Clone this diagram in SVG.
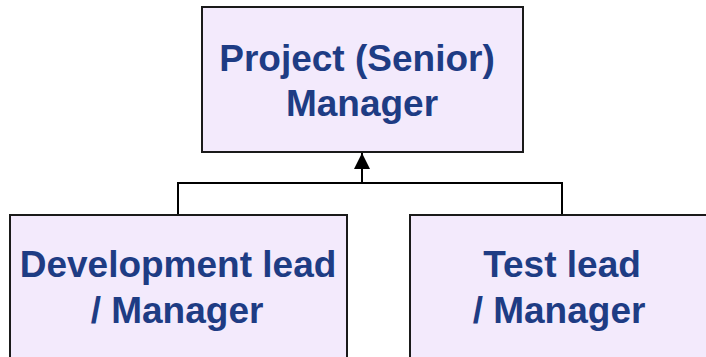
<svg xmlns="http://www.w3.org/2000/svg" width="706" height="357" viewBox="0 0 706 357">
  <style>
    .box { fill: #F3EAFC; stroke: #1a1a1a; stroke-width: 2; }
    .label { font-family: "Liberation Sans", Arial, sans-serif; font-weight: bold; font-size: 37px; fill: #1E3C84; text-anchor: middle; }
    .wire { fill: none; stroke: #000; stroke-width: 2; }
  </style>
  <defs>
    <marker id="arrow" markerUnits="userSpaceOnUse" markerWidth="16" markerHeight="16" viewBox="0 0 16 16" refX="16" refY="8" orient="auto">
      <path d="M0,0 L16,8 L0,16 Z" fill="#000"/>
    </marker>
  </defs>
  <rect width="706" height="357" fill="#fff"/>

  <g id="connectors">
    <path class="wire" d="M178,215 V183 H562 V215"/>
    <path class="wire" d="M362,183 V153" marker-end="url(#arrow)"/>
  </g>

  <g id="project-manager">
    <rect class="box" x="202" y="7" width="321" height="145"/>
    <text class="label" x="357" y="71">Project (Senior)</text>
    <text class="label" x="362" y="116">Manager</text>
  </g>

  <g id="development-lead">
    <rect class="box" x="10" y="215" width="337" height="160"/>
    <text class="label" x="178" y="277">Development lead</text>
    <text class="label" x="177" y="323">/ Manager</text>
  </g>

  <g id="test-lead">
    <rect class="box" x="410" y="215" width="320" height="160"/>
    <text class="label" x="562" y="277">Test lead</text>
    <text class="label" x="559" y="323">/ Manager</text>
  </g>
</svg>
